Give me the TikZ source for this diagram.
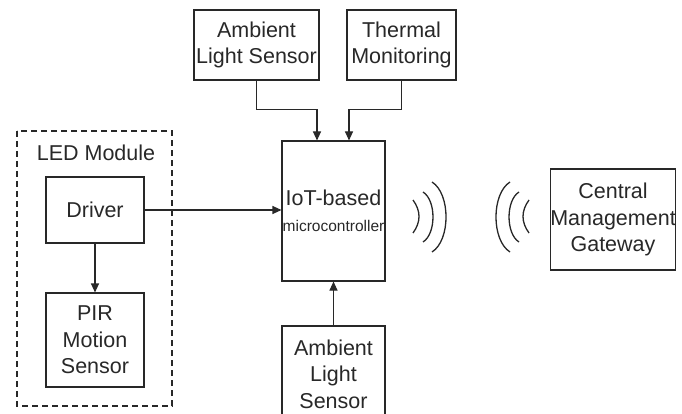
\documentclass[tikz,border=0pt]{standalone}
\usepackage{fontspec}
\setmainfont{Liberation Sans}
\usetikzlibrary{arrows.meta}
\definecolor{ink}{RGB}{40,40,40}
\begin{document}
\begin{tikzpicture}[x=1pt,y=-1pt, line width=1.1pt, draw=ink, text=ink,
  box/.style={draw=ink, rectangle, inner sep=0pt, align=center, font=\fontsize{21.5}{26.5}\selectfont},
  arr/.style={-{Triangle[length=9pt,width=8pt]}},
  wave/.style={line width=1.3pt}]
\useasboundingbox (0,0) rectangle (682,414);
% LED module frame
\draw[dashed, dash pattern=on 6pt off 4pt] (17,131) rectangle (172,406);
\node[font=\fontsize{21.5}{26.5}\selectfont, text=ink] (led) at (96,153) {LED Module};
% boxes
\node[box, minimum width=125, minimum height=70] (als) at (256.5,45) {Ambient\\Light Sensor};
\node[box, minimum width=109, minimum height=70] (th) at (401.5,45) {Thermal\\Monitoring};
\node[box, minimum width=103, minimum height=140] (mcu) at (333.5,211) {IoT-based\\[-1pt]{\fontsize{15.5}{18}\selectfont microcontroller}};
\node[box, minimum width=124, minimum height=101] (gw) at (613,219.5) {Central\\Management\\Gateway};
\node[box, minimum width=98, minimum height=66] (drv) at (95,210) {Driver};
\node[box, minimum width=98, minimum height=94] (pir) at (95,340) {PIR\\Motion\\Sensor};
\node[box, minimum width=103, minimum height=96] (als2) at (333.5,374) {Ambient\\Light\\Sensor};
% connectors
\draw[arr] (als.south) -- ++(0,29) -| ([xshift=-16.5pt]mcu.north);
\draw[arr] (th.south) -- ++(0,29) -| ([xshift=15.5pt]mcu.north);
\draw[arr] (drv.east) -- (drv.east -| mcu.west);
\draw[arr] (drv.south) -- (pir.north);
\draw[arr] (als2.north) -- (mcu.south);
% wireless waves
\draw[wave] (413,200) .. controls (421,211) and (421,222) .. (413,233);
\draw[wave] (423,192) .. controls (436.3,200.3) and (436.3,233.7) .. (423,242);
\draw[wave] (432,182) .. controls (450.7,193.7) and (450.7,240.3) .. (432,252);
\draw[wave] (510,182) .. controls (491.3,193.7) and (491.3,240.3) .. (510,252);
\draw[wave] (519,192) .. controls (505.7,200.3) and (505.7,233.7) .. (519,242);
\draw[wave] (529,200) .. controls (521,211) and (521,222) .. (529,233);
\end{tikzpicture}
\end{document}
